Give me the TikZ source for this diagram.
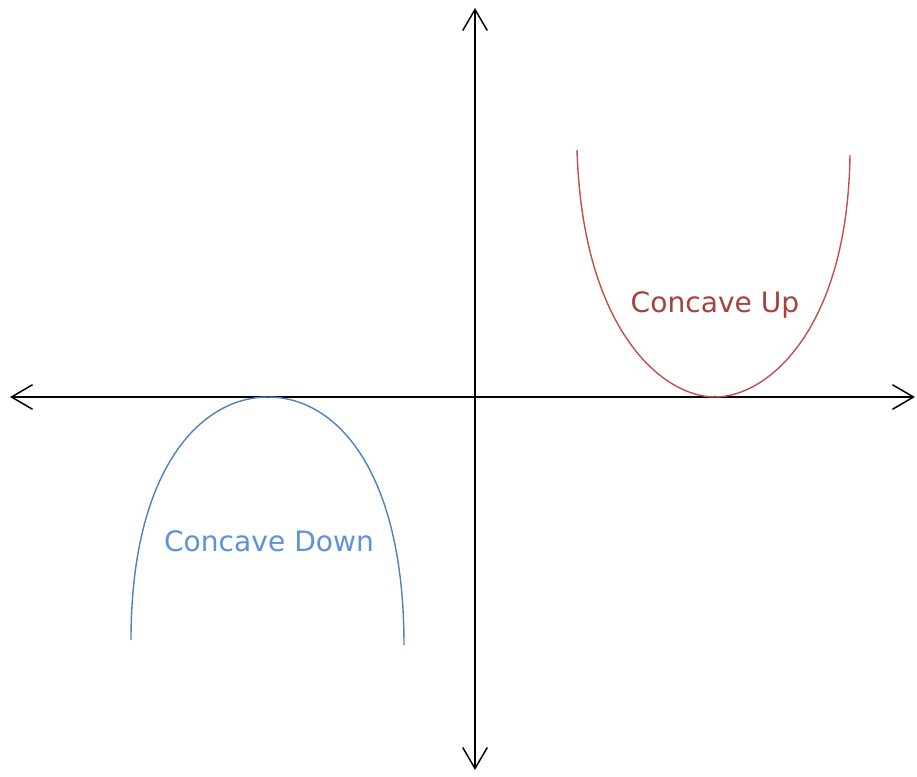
\documentclass[tikz,border=0pt]{standalone}
\usepackage{fontspec}
\setmainfont{DejaVu Sans}
\usetikzlibrary{arrows.meta}
\definecolor{upred}{HTML}{C0504D}
\definecolor{uptext}{HTML}{A5413E}
\definecolor{downblue}{HTML}{4F81BD}
\definecolor{downtext}{HTML}{5B93DB}
\tikzset{
  axis/.style={line width=0.85pt, {Straight Barb[length=12pt,width=14pt]}-{Straight Barb[length=12pt,width=14pt]}},
  curvelabel/.style={font=\fontsize{16}{19}\selectfont, inner sep=0pt}
}
\begin{document}
\begin{tikzpicture}
    \useasboundingbox (-9.5,-7.58) rectangle (8.84,7.94);
    % axes
    \coordinate (xl) at (-9.3,0);
    \coordinate (xr) at (8.8,0);
    \coordinate (yt) at (0,7.78);
    \coordinate (yb) at (0,-7.46);
    \draw[axis] (xl) -- (xr);
    \draw[axis] (yb) -- (yt);
    % concave up
    \coordinate (ua) at (2.04,4.94);
    \coordinate (uv) at (4.8,0);
    \coordinate (ub) at (7.5,4.84);
    \draw[upred, line width=0.8pt] (ua) .. controls (2.15,1.34) and (3.75,0) .. (uv)
        .. controls (5.85,0) and (7.45,1.34) .. (ub);
    \node[curvelabel, text=uptext] (up) at (4.8,1.84) {Concave Up};
    % concave down
    \coordinate (da) at (-6.88,-4.86);
    \coordinate (dv) at (-4.14,0);
    \coordinate (db) at (-1.42,-4.96);
    \draw[downblue, line width=0.8pt] (da) .. controls (-6.88,-1.46) and (-5.5,0) .. (dv)
        .. controls (-2.78,0) and (-1.42,-1.46) .. (db);
    \node[curvelabel, text=downtext] (down) at (-4.12,-2.88) {Concave Down};
\end{tikzpicture}
\end{document}
